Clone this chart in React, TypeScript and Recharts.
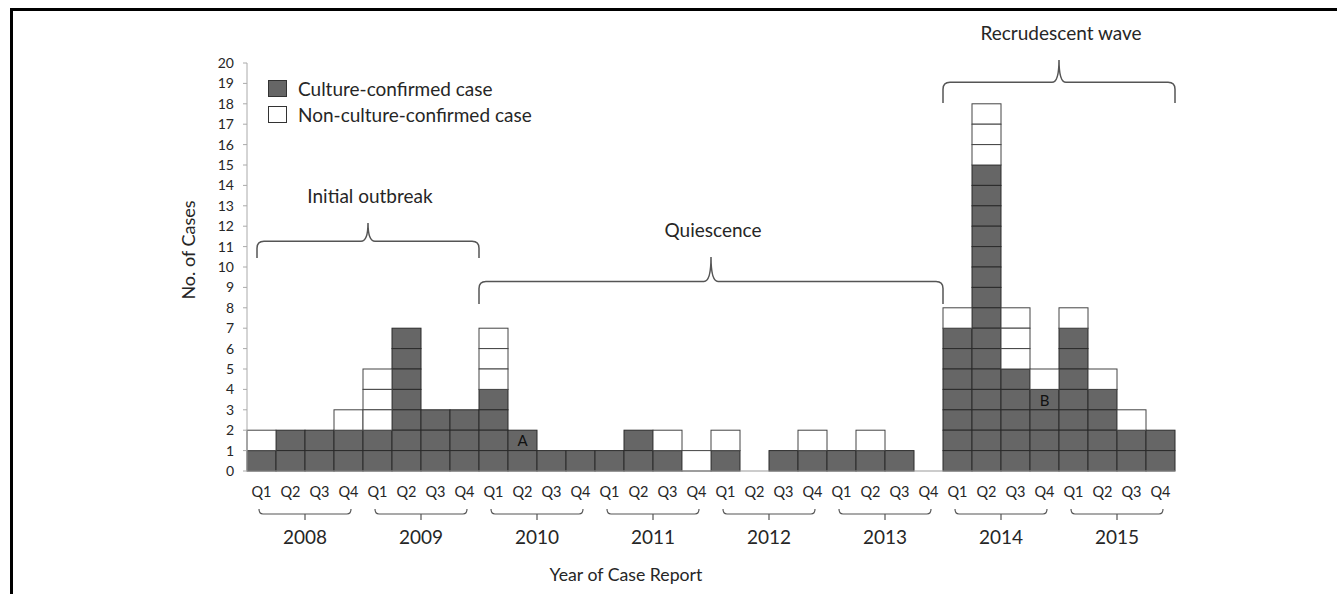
import { BarChart, Bar, XAxis, YAxis, ReferenceArea, Legend, LabelList } from "recharts";

const years = ["2008", "2009", "2010", "2011", "2012", "2013", "2014", "2015"];
const quarterNames = ["Q1", "Q2", "Q3", "Q4"];

// cases per quarter, 2008 Q1 .. 2015 Q4
const cultureConfirmed = [1, 2, 2, 2, 2, 7, 3, 3, 4, 2, 1, 1, 1, 2, 1, 0, 1, 0, 1, 1, 1, 1, 1, 0, 7, 15, 5, 4, 7, 4, 2, 2];
const nonCultureConfirmed = [1, 0, 0, 1, 3, 0, 0, 0, 3, 0, 0, 0, 0, 0, 1, 1, 1, 0, 0, 1, 0, 1, 0, 0, 1, 3, 3, 1, 1, 1, 1, 0];
const cellNotes = ["", "", "", "", "", "", "", "", "", "A", "", "", "", "", "", "", "", "", "", "", "", "", "", "", "", "", "", "B", "", "", "", ""];

const yTicks = [0, 1, 2, 3, 4, 5, 6, 7, 8, 9, 10, 11, 12, 13, 14, 15, 16, 17, 18, 19, 20];
const legendLabels = ["Culture-confirmed case", "Non-culture-confirmed case"];

const phaseNames = ["Initial outbreak", "Quiescence", "Recrudescent wave"];
const phaseFrom = ["2008 Q1", "2010 Q1", "2014 Q1"];
const phaseTo = ["2009 Q4", "2013 Q4", "2015 Q4"];

const data = years.flatMap((year, i) =>
  quarterNames.map((q, j) => {
    const k = i * 4 + j;
    return {
      key: `${year} ${q}`,
      year,
      culture: cultureConfirmed[k],
      nonCulture: nonCultureConfirmed[k],
      note: cellNotes[k]
    };
  })
);

const FONT = "Lato, 'Open Sans', sans-serif";
const TEXT = "#262626";
const DARK = "#666666";

function UnitCells(props: any) {
  const { x, y, width, height, count, fill, stroke } = props;
  if (!count || !height) return null;
  const unit = height / count;
  return (
    <g>
      {Array.from({ length: count }, (_, i) => (
        <rect key={i} x={x} y={y + i * unit} width={width} height={unit} fill={fill} stroke={stroke} strokeWidth={1} />
      ))}
    </g>
  );
}

function NoteLabel(props: any) {
  const vb = props.viewBox ?? props;
  const { x, y, width, height } = vb;
  const idx = props.index;
  if (!props.value || !cultureConfirmed[idx]) return null;
  const unit = height / cultureConfirmed[idx];
  return (
    <text x={x + width / 2} y={y + unit / 2} textAnchor="middle" dominantBaseline="central" fontSize={15} fill="#111">
      {props.value}
    </text>
  );
}

function Brace(props: any) {
  const { x, y, width, height, name, inset = 0 } = props;
  const left = x + inset;
  const right = x + width;
  const cx = (left + right) / 2;
  const top = y;
  const bottom = y + height;
  const mid = y + height * 0.52;
  const r = 7;
  const d =
    `M${left},${bottom} L${left},${mid + r} Q${left},${mid} ${left + r},${mid} L${cx - r},${mid} ` +
    `Q${cx},${mid} ${cx},${top} Q${cx},${mid} ${cx + r},${mid} L${right - r},${mid} ` +
    `Q${right},${mid} ${right},${mid + r} L${right},${bottom}`;
  return (
    <g>
      <path d={d} fill="none" stroke="#555" strokeWidth={1.5} />
      <text x={cx + 2} y={top - 20} textAnchor="middle" fontSize={19} fill={TEXT}>
        {name}
      </text>
    </g>
  );
}

function QuarterTick(props: any) {
  const { x, y, payload } = props;
  return (
    <text x={x} y={y + 8} dy="0.71em" textAnchor="middle" fontSize={14.5} fill={TEXT}>
      {String(payload.value).split(" ")[1]}
    </text>
  );
}

function YearTick(props: any) {
  const { x, y, payload } = props;
  const hw = 46;
  return (
    <g>
      <path
        d={`M${x - hw},${y - 5} Q${x - hw},${y} ${x - hw + 4},${y} L${x + hw - 4},${y} Q${x + hw},${y} ${x + hw},${y - 5} M${x},${y} L${x},${y + 6}`}
        fill="none"
        stroke="#555"
        strokeWidth={1.2}
      />
      <text x={x} y={y + 30} textAnchor="middle" fontSize={19} fill={TEXT}>
        {payload.value}
      </text>
    </g>
  );
}

function CaseLegend() {
  const fills = [DARK, "#ffffff"];
  return (
    <div style={{ fontFamily: FONT, fontSize: 19, color: TEXT }}>
      {legendLabels.map((label, i) => (
        <div key={label} style={{ display: "flex", alignItems: "center", height: 26 }}>
          <span
            style={{
              display: "inline-block",
              width: 17,
              height: 15,
              background: fills[i],
              border: "1.5px solid #333",
              marginRight: 11
            }}
          />
          <span>{label}</span>
        </div>
      ))}
    </div>
  );
}

export default function App() {
  const braceLevels = [
    [10.44, 12.16],
    [8.19, 10.49],
    [18.04, 20.15]
  ];
  const braceInsets = [10, 0, 0];

  return (
    <div style={{ position: "absolute", left: 0, top: 0, width: 1337, height: 594, background: "#fff", fontFamily: FONT }}>
      <div style={{ position: "absolute", left: 10, top: 8, right: 0, bottom: 0, borderTop: "3px solid #000", borderLeft: "3px solid #000" }} />
      <div style={{ position: "absolute", left: 0, top: 0 }}>
        <BarChart
          width={1337}
          height={594}
          data={data}
          margin={{ top: 63, right: 162, bottom: 13, left: 187 }}
          barCategoryGap={0}
          barGap={0}
        >
          <YAxis
            domain={[0, 20]}
            ticks={yTicks}
            interval={0}
            width={60}
            tickSize={4}
            tickMargin={9}
            axisLine={{ stroke: "#aaa" }}
            tickLine={{ stroke: "#aaa" }}
            tick={{ fontSize: 14, fill: TEXT }}
            label={{
              content: (p: any) => {
                const vb = p.viewBox || { x: 187, y: 63, height: 408 };
                const cx = vb.x + 1;
                const cy = 250;
                return (
                  <text x={cx} y={cy} transform={`rotate(-90 ${cx} ${cy})`} textAnchor="middle" dominantBaseline="central" fontSize={18} fill={TEXT}>
                    No. of Cases
                  </text>
                );
              }
            }}
          />
          <XAxis
            dataKey="key"
            interval={0}
            height={35}
            tickLine={false}
            axisLine={{ stroke: "#999" }}
            tick={<QuarterTick />}
          />
          <XAxis
            xAxisId="yr"
            dataKey="year"
            allowDuplicatedCategory={false}
            interval={0}
            height={75}
            tickLine={false}
            axisLine={false}
            tick={<YearTick />}
            label={{
              content: (p: any) => {
                const vb = p.viewBox || { x: 247, y: 506 };
                return (
                  <text x={vb.x + 379} y={vb.y + 75} textAnchor="middle" fontSize={17.7} fill={TEXT}>
                    Year of Case Report
                  </text>
                );
              }
            }}
          />
          <Legend
            layout="vertical"
            align="center"
            verticalAlign="middle"
            wrapperStyle={{ top: 75, left: 268, width: 320 }}
            content={<CaseLegend />}
          />
          <Bar
            dataKey="culture"
            name={legendLabels[0]}
            stackId="cases"
            fill={DARK}
            isAnimationActive={false}
            shape={(p: any) => <UnitCells {...p} count={p.payload.culture} fill={DARK} stroke="#2a2a2a" />}
          >
            <LabelList dataKey="note" content={<NoteLabel />} />
          </Bar>
          <Bar
            dataKey="nonCulture"
            name={legendLabels[1]}
            stackId="cases"
            fill="#ffffff"
            isAnimationActive={false}
            shape={(p: any) => <UnitCells {...p} count={p.payload.nonCulture} fill="#ffffff" stroke="#444" />}
          />
          {phaseNames.map((name, i) => (
            <ReferenceArea
              key={name}
              x1={phaseFrom[i]}
              x2={phaseTo[i]}
              y1={braceLevels[i][0]}
              y2={braceLevels[i][1]}
              ifOverflow="visible"
              shape={(p: any) => <Brace {...p} name={name} inset={braceInsets[i]} />}
            />
          ))}
        </BarChart>
      </div>
    </div>
  );
}
